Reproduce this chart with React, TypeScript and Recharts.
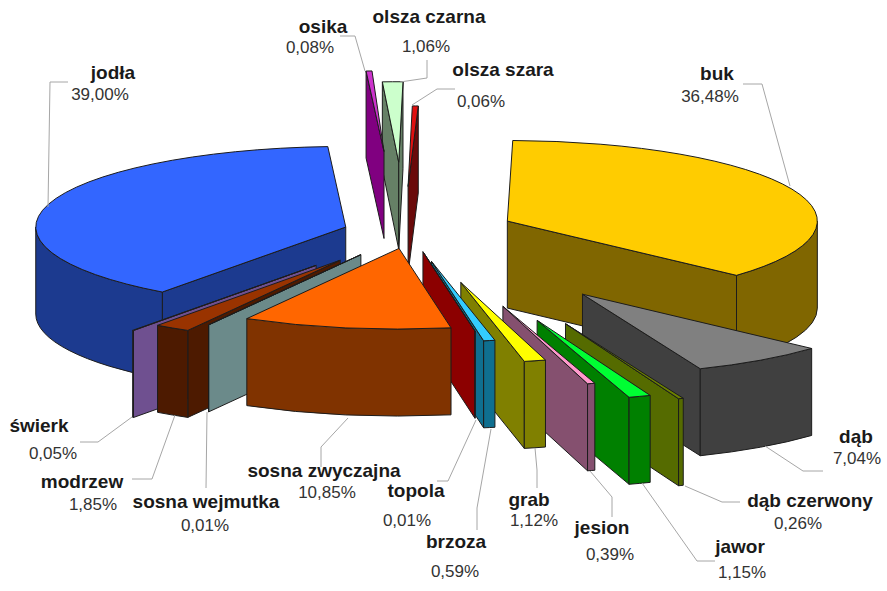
import { PieChart, Pie } from 'recharts';

const species = [
  'buk', 'dąb', 'dąb czerwony', 'jawor', 'jesion', 'grab', 'brzoza', 'topola',
  'sosna zwyczajna', 'sosna wejmutka', 'modrzew', 'świerk', 'jodła', 'osika', 'olsza czarna', 'olsza szara',
];
const shares = [36.48, 7.04, 0.26, 1.15, 0.39, 1.12, 0.59, 0.01, 10.85, 0.01, 1.85, 0.05, 39.0, 0.08, 1.06, 0.06];

const topColors = [
  '#ffcc00', '#808080', '#6b8000', '#00ff33', '#ff99cc', '#ffff00', '#33ccff', '#990000',
  '#ff6600', '#8fa8a8', '#993300', '#8a63a8', '#3366ff', '#cc33cc', '#ccffcc', '#e01010',
];
const sideColors = [
  '#806600', '#404040', '#556b00', '#008000', '#85506f', '#808000', '#0f6f90', '#8c0000',
  '#803300', '#6b8a8a', '#4d1a00', '#6f5090', '#1c3a8f', '#800080', '#668066', '#6a0a0a',
];

// how far each slice is pulled out of the pie, in px along its mid angle
const explode = [106, 292, 380, 360, 298, 200, 115, 77, 64, 100, 129, 159, 67, 310, 268, 175];
const shiftX: Record<string, number> = {
  'dąb': 5,
  'dąb czerwony': 14,
  jawor: 8,
  jesion: 8,
  grab: 3,
  osika: -11,
  'olsza czarna': -6,
  'olsza szara': -6,
};
// hair-thin slices are drawn a bit wider than their share, or they vanish under the outline
const minSweep: Record<string, number> = { osika: 1.1, 'olsza szara': 1.1 };

// back to front
const drawOrder = [
  'olsza szara', 'olsza czarna', 'osika', 'jodła', 'buk', 'świerk', 'modrzew', 'sosna wejmutka',
  'dąb', 'dąb czerwony', 'jawor', 'jesion', 'grab', 'brzoza', 'topola', 'sosna zwyczajna',
];

// name x/baseline, value x/baseline, leader line
const labelLayout: Record<string, { n: number[]; v: number[]; line: number[][] }> = {
  'jodła': { n: [113, 79], v: [100, 100], line: [[68, 82], [50, 82], [48, 207]] },
  'buk': { n: [717, 80], v: [710, 102], line: [[743, 84], [762, 84], [790, 186]] },
  'osika': { n: [323, 33], v: [310, 53], line: [[340, 36], [355, 36], [365, 71]] },
  'olsza czarna': { n: [429, 23], v: [426, 52], line: [[427, 60], [427, 78], [400, 82]] },
  'olsza szara': { n: [503, 76], v: [481, 107], line: [[455, 89], [437, 89], [412, 105]] },
  'dąb': { n: [856, 443], v: [857, 464], line: [[823, 471], [803, 471], [765, 446]] },
  'dąb czerwony': { n: [810, 507], v: [798, 529], line: [[740, 502], [722, 502], [685, 486]] },
  'jawor': { n: [740, 553], v: [742, 578], line: [[715, 561], [697, 561], [642, 483]] },
  'jesion': { n: [602, 534], v: [610, 560], line: [[612, 517], [612, 497], [590, 471]] },
  'grab': { n: [529, 506], v: [534, 526], line: [[537, 488], [537, 470], [535, 448]] },
  'brzoza': { n: [456, 548], v: [455, 577], line: [[477, 530], [477, 508], [491, 429]] },
  'topola': { n: [416, 497], v: [407, 526], line: [[437, 481], [448, 481], [476, 420]] },
  'sosna zwyczajna': { n: [324, 477], v: [327, 498], line: [[321, 467], [321, 447], [348, 418]] },
  'sosna wejmutka': { n: [206, 508], v: [205, 531], line: [[206, 488], [207, 412]] },
  'modrzew': { n: [82, 488], v: [93, 510], line: [[132, 479], [152, 479], [175, 415]] },
  'świerk': { n: [39, 432], v: [53, 459], line: [[80, 442], [98, 442], [132, 417]] },
};

const WIDTH = 887;
const HEIGHT = 591;
const CX = 410;
const CY = 232;
const RADIUS = 310;
const TILT = 0.26;
const DEPTH = 87;
const ROTATION = 1;
const EDGE = '#1c1c1c';

const tableData = species.map((name, i) => ({
  name,
  value: shares[i],
  top: topColors[i],
  side: sideColors[i],
  pull: explode[i],
}));

const rad = (deg: number) => (deg * Math.PI) / 180;

// 3D-looking slice: the pie is tilted, so a circle point lands on an ellipse
function Slice3D(props: any) {
  const { cx, cy, outerRadius, startAngle, endAngle, payload } = props;
  const a1 = 90 - startAngle;
  const a2 = Math.max(90 - endAngle, a1 + (minSweep[payload.name] ?? 0));
  const mid = (a1 + a2) / 2;
  const ax = cx + payload.pull * Math.sin(rad(mid)) + (shiftX[payload.name] ?? 0);
  const ay = cy - payload.pull * Math.cos(rad(mid)) * TILT;
  const rx = outerRadius;
  const ry = outerRadius * TILT;
  const px = (a: number) => ax + rx * Math.sin(rad(a));
  const py = (a: number) => ay - ry * Math.cos(rad(a));
  const large = a2 - a1 > 180 ? 1 : 0;

  const wall = (a: number) => (
    <path
      d={`M${ax},${ay} L${px(a)},${py(a)} L${px(a)},${py(a) + DEPTH} L${ax},${ay + DEPTH} Z`}
      fill={payload.side}
      stroke={EDGE}
      strokeWidth={1}
      strokeLinejoin="round"
    />
  );

  const b1 = Math.max(a1, 90);
  const b2 = Math.min(a2, 270);

  return (
    <g>
      {Math.sin(rad(a1)) < 0 && wall(a1)}
      {Math.sin(rad(a2)) > 0 && wall(a2)}
      {b2 > b1 && (
        <path
          d={`M${px(b1)},${py(b1)} A${rx},${ry} 0 0 1 ${px(b2)},${py(b2)} L${px(b2)},${py(b2) + DEPTH} A${rx},${ry} 0 0 0 ${px(b1)},${py(b1) + DEPTH} Z`}
          fill={payload.side}
          stroke={EDGE}
          strokeWidth={1}
        />
      )}
      <path
        d={`M${ax},${ay} L${px(a1)},${py(a1)} A${rx},${ry} 0 ${large} 1 ${px(a2)},${py(a2)} Z`}
        fill={payload.top}
        stroke={EDGE}
        strokeWidth={1}
        strokeLinejoin="round"
      />
    </g>
  );
}

function SliceLabel(props: any) {
  const layout = labelLayout[props.name];
  if (!layout) return null;
  const pct = Number(props.value).toFixed(2).replace('.', ',') + '%';
  return (
    <g fontFamily="Liberation Sans, Arial, sans-serif">
      <polyline
        points={layout.line.map((p) => p.join(',')).join(' ')}
        fill="none"
        stroke="#a6a6a6"
        strokeWidth={1}
      />
      <text x={layout.n[0]} y={layout.n[1]} textAnchor="middle" fontWeight="bold" fontSize={19} fill="#1a1a1a">
        {props.name}
      </text>
      <text x={layout.v[0]} y={layout.v[1]} textAnchor="middle" fontSize={17} fill="#333333">
        {pct}
      </text>
    </g>
  );
}

export default function App() {
  return (
    <div style={{ position: 'absolute', left: 0, top: 0, width: WIDTH, height: HEIGHT, background: '#fff' }}>
      <PieChart width={WIDTH} height={HEIGHT} margin={{ top: 0, right: 0, bottom: 0, left: 0 }}>
        {drawOrder.map((sliceName, pass) => (
          <Pie
            key={sliceName}
            data={tableData}
            dataKey="value"
            nameKey="name"
            cx={CX}
            cy={CY}
            innerRadius={0}
            outerRadius={RADIUS}
            startAngle={90 - ROTATION}
            endAngle={-270 - ROTATION}
            stroke="none"
            isAnimationActive={false}
            shape={(p: any) => (p.payload.name === sliceName ? <Slice3D {...p} /> : <g />)}
            label={pass === drawOrder.length - 1 ? (p: any) => <SliceLabel {...p} /> : false}
            labelLine={false}
          />
        ))}
      </PieChart>
    </div>
  );
}
